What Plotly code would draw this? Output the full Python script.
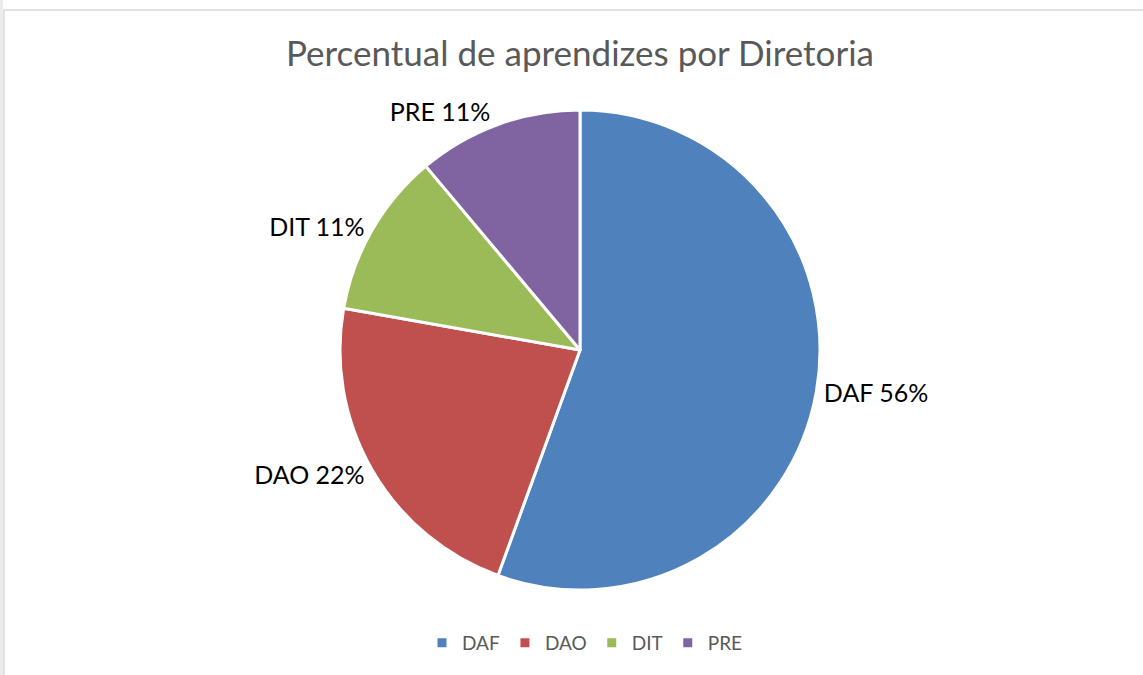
import plotly.graph_objects as go

W, H = 1143, 675

categories = ["DAF", "DAO", "DIT", "PRE"]
values = [5, 2, 1, 1]
colors = ["#4F81BD", "#C0504D", "#9BBB59", "#8064A2"]
title_text = "Percentual de aprendizes por Diretoria"

cx, cy, r = 580, 350, 240

fig = go.Figure()
fig.add_trace(go.Pie(
    labels=categories,
    values=values,
    sort=False,
    direction="clockwise",
    rotation=0,
    marker=dict(colors=colors, line=dict(color="white", width=3)),
    texttemplate="%{label} %{percent:.0%}",
    textposition="outside",
    outsidetextfont=dict(family="Lato", size=25, color="#000000"),
    hoverinfo="label+percent",
    domain=dict(x=[(cx - r) / W, (cx + r) / W], y=[(H - cy - r) / H, (H - cy + r) / H]),
    showlegend=True,
))

fig.update_layout(
    width=W, height=H,
    margin=dict(l=0, r=0, t=0, b=0),
    paper_bgcolor="white",
    plot_bgcolor="white",
    title=dict(text=title_text, x=580 / W, xanchor="center", y=1 - 54 / H, yanchor="middle",
               font=dict(family="Lato", size=35, color="#595959")),
    legend=dict(orientation="h", x=585 / W, xanchor="center", y=1 - 643 / H, yanchor="middle",
                font=dict(family="Lato", size=19, color="#595959"), itemwidth=30,
                traceorder="normal"),
    font=dict(family="Lato"),
    shapes=[
        dict(type="rect", xref="paper", yref="paper", x0=0, x1=3 / W, y0=0, y1=1,
             line=dict(width=0), fillcolor="#EBEBEB", layer="below"),
        dict(type="rect", xref="paper", yref="paper", x0=4 / W, x1=1.1, y0=-0.1, y1=1 - 10 / H,
             line=dict(color="#D9D9D9", width=1.5), fillcolor="rgba(0,0,0,0)", layer="below"),
    ],
)

fig.write_html("out.html", config={"displayModeBar": False},
               post_script="document.body.style.margin='0px';")
